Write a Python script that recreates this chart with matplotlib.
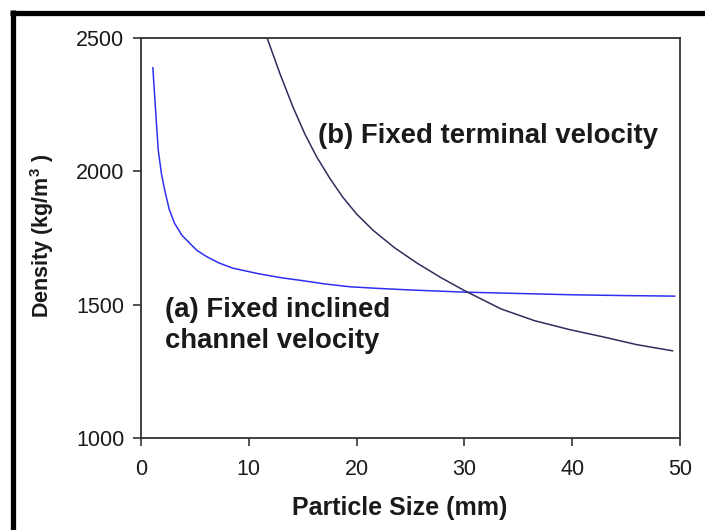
import matplotlib
matplotlib.use("Agg")
import matplotlib.pyplot as plt
from matplotlib.lines import Line2D

plt.rcParams['font.family'] = ['Liberation Sans', 'DejaVu Sans']
plt.rcParams['mathtext.fontset'] = 'custom'
plt.rcParams['mathtext.rm'] = 'Liberation Sans'
plt.rcParams['mathtext.bf'] = 'Liberation Sans:bold'

# (a) fixed inclined channel velocity
size_a = [1.1, 1.4, 1.6, 1.9, 2.2, 2.6, 3.1, 3.8, 4.5, 5.2, 6.1, 7.2, 8.5,
          10.9, 13, 15, 17, 19.4, 22, 25, 30, 35, 40, 45, 49.5]
density_a = [2388, 2200, 2080, 1990, 1930, 1860, 1806, 1760, 1731, 1703, 1680,
             1657, 1637, 1616, 1601, 1590, 1578, 1567, 1561, 1555, 1547, 1542,
             1537, 1534, 1532]

# (b) fixed terminal velocity
size_b = [11.7, 12.9, 14.1, 15.2, 16.3, 17.5, 18.7, 20, 21.5, 23.5, 25.6, 27.8,
          29.9, 33.4, 36.5, 39.7, 43, 46, 49.3]
density_b = [2500, 2365, 2241, 2140, 2054, 1975, 1904, 1840, 1780, 1714, 1656,
             1602, 1555, 1484, 1440, 1407, 1378, 1350, 1327]

x_ticks = [0, 10, 20, 30, 40, 50]
y_ticks = [1000, 1500, 2000, 2500]

fig = plt.figure(figsize=(7.05, 5.30), dpi=100)
fig.patch.set_facecolor('white')
ax = fig.add_axes([0.200, 0.1736, 0.7645, 0.7547])

ax.plot(size_a, density_a, color='#2f2ff2', lw=1.1)
ax.plot(size_b, density_b, color='#2e2d5c', lw=1.1)

ax.set_xlim(0, 50)
ax.set_ylim(1000, 2500)
ax.set_xticks(x_ticks)
ax.set_yticks(y_ticks)
ax.tick_params(direction='out', length=6, width=1.2, color='#333333',
               labelsize=15.5, labelcolor='#1a1a1a')
ax.tick_params(axis='x', pad=9)
ax.tick_params(axis='y', pad=6)
for sp in ax.spines.values():
    sp.set_color('#333333')
    sp.set_linewidth(1.3)

ax.set_xlabel('Particle Size (mm)', fontsize=18, fontweight='bold',
              color='#1a1a1a')
ax.xaxis.set_label_coords(0.4805, -0.145)
ax.set_ylabel(r'Density (kg/m$^{\mathbf{3}}$ )', fontsize=15.5, fontweight='bold',
              color='#1a1a1a')
ax.yaxis.set_label_coords(-0.158, 0.505)

ax.text(16.4, 2132, '(b) Fixed terminal velocity', fontsize=19.8,
        fontweight='bold', color='#1a1a1a', va='center', ha='left')
ax.text(2.2, 1480, '(a) Fixed inclined', fontsize=19.8,
        fontweight='bold', color='#1a1a1a', va='center', ha='left')
ax.text(2.2, 1364, 'channel velocity', fontsize=19.8,
        fontweight='bold', color='#1a1a1a', va='center', ha='left')

# heavy frame along the top and left edges
W, H = 705, 530
fig.add_artist(Line2D([10 / W, 1.0], [1 - 12.5 / H, 1 - 12.5 / H],
                      transform=fig.transFigure, color='black', lw=3.8,
                      solid_capstyle='butt'))
fig.add_artist(Line2D([12.5 / W, 12.5 / W], [0.0, 1 - 10 / H],
                      transform=fig.transFigure, color='black', lw=3.8,
                      solid_capstyle='butt'))

fig.savefig('out.png', dpi=100)
